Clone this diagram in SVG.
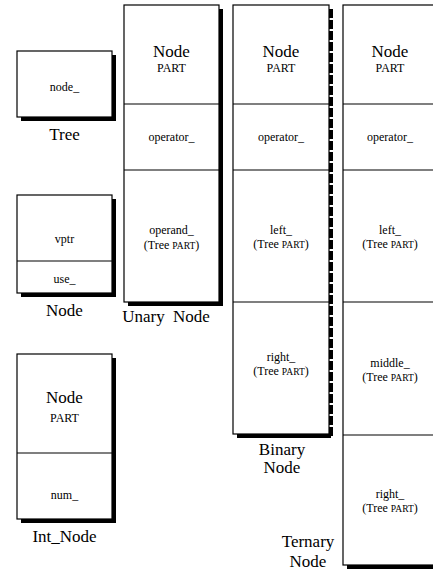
<svg xmlns="http://www.w3.org/2000/svg" width="433" height="571" viewBox="0 0 433 571">
<defs>
<style>
text{font-family:'Liberation Serif','DejaVu Serif','Times New Roman',serif;text-anchor:middle;fill:#000}
.big{font-size:17px}
.sm{font-size:12px}
.sc{font-size:9.5px}
.bx{fill:#fff;stroke:#000;stroke-width:1.2}
.dv{stroke:#000;stroke-width:1.2}
.sh{fill:none;stroke:#000;stroke-width:4}
</style>
</defs>
<rect width="433" height="571" fill="#ffffff"/>
<g id="tree">
<path class="sh" d="M114,55 V119 H21"/>
<rect class="bx" x="17" y="51" width="95" height="66"/>
<text class="sm" x="64.5" y="91">node_</text>
<text class="big" x="64.5" y="140">Tree</text>
</g>
<g id="node">
<path class="sh" d="M114,199 V295 H21"/>
<rect class="bx" x="17" y="195" width="95" height="98"/>
<line class="dv" x1="17" y1="261" x2="112" y2="261"/>
<text class="sm" x="64.5" y="243">vptr</text>
<text class="sm" x="64.5" y="283">use_</text>
<text class="big" x="64.5" y="316">Node</text>
</g>
<g id="int_node">
<path class="sh" d="M114,358 V521 H21"/>
<rect class="bx" x="17" y="354" width="95" height="165"/>
<line class="dv" x1="17" y1="453" x2="112" y2="453"/>
<text class="big" x="64.5" y="403">Node</text>
<text class="sm" x="64.5" y="422">PART</text>
<text class="sm" x="64.5" y="499">num_</text>
<text class="big" x="64.5" y="542">Int_Node</text>
</g>
<g id="unary_node">
<path class="sh" d="M221,9 V304 H128"/>
<rect class="bx" x="124" y="5" width="95" height="297"/>
<line class="dv" x1="124" y1="104" x2="219" y2="104"/>
<line class="dv" x1="124" y1="170" x2="219" y2="170"/>
<text class="big" x="171.5" y="57">Node</text>
<text class="sm" x="171.5" y="72">PART</text>
<text class="sm" x="171.5" y="141">operator_</text>
<text class="sm" x="171.5" y="234">operand_</text>
<text class="sm" x="171.5" y="249">(Tree <tspan class="sc">PART</tspan>)</text>
<text class="big" x="166" y="322" word-spacing="4">Unary Node</text>
</g>
<g id="binary_node">
<path class="sh" d="M331,436 H237"/>
<path class="sh" d="M331,9 V438" stroke-dasharray="9 2"/>
<rect class="bx" x="233" y="5" width="96" height="429"/>
<line class="dv" x1="233" y1="104" x2="329" y2="104"/>
<line class="dv" x1="233" y1="170" x2="329" y2="170"/>
<line class="dv" x1="233" y1="302" x2="329" y2="302"/>
<text class="big" x="281" y="57">Node</text>
<text class="sm" x="281" y="72">PART</text>
<text class="sm" x="281" y="141">operator_</text>
<text class="sm" x="281" y="234">left_</text>
<text class="sm" x="281" y="248">(Tree <tspan class="sc">PART</tspan>)</text>
<text class="sm" x="281" y="361">right_</text>
<text class="sm" x="281" y="375">(Tree <tspan class="sc">PART</tspan>)</text>
<text class="big" x="282" y="455">Binary</text>
<text class="big" x="282" y="473">Node</text>
</g>
<g id="ternary_node">
<path class="sh" d="M347,567 H440"/>
<rect class="bx" x="343" y="5" width="96" height="560"/>
<line class="dv" x1="343" y1="104" x2="439" y2="104"/>
<line class="dv" x1="343" y1="170" x2="439" y2="170"/>
<line class="dv" x1="343" y1="302" x2="439" y2="302"/>
<line class="dv" x1="343" y1="435" x2="439" y2="435"/>
<text class="big" x="390" y="57">Node</text>
<text class="sm" x="390" y="72">PART</text>
<text class="sm" x="390" y="141">operator_</text>
<text class="sm" x="390" y="234">left_</text>
<text class="sm" x="390" y="248">(Tree <tspan class="sc">PART</tspan>)</text>
<text class="sm" x="390" y="367">middle_</text>
<text class="sm" x="390" y="381">(Tree <tspan class="sc">PART</tspan>)</text>
<text class="sm" x="390" y="498">right_</text>
<text class="sm" x="390" y="512">(Tree <tspan class="sc">PART</tspan>)</text>
<text class="big" x="308" y="547">Ternary</text>
<text class="big" x="308" y="567">Node</text>
</g>
<g id="connectors"/>
</svg>
